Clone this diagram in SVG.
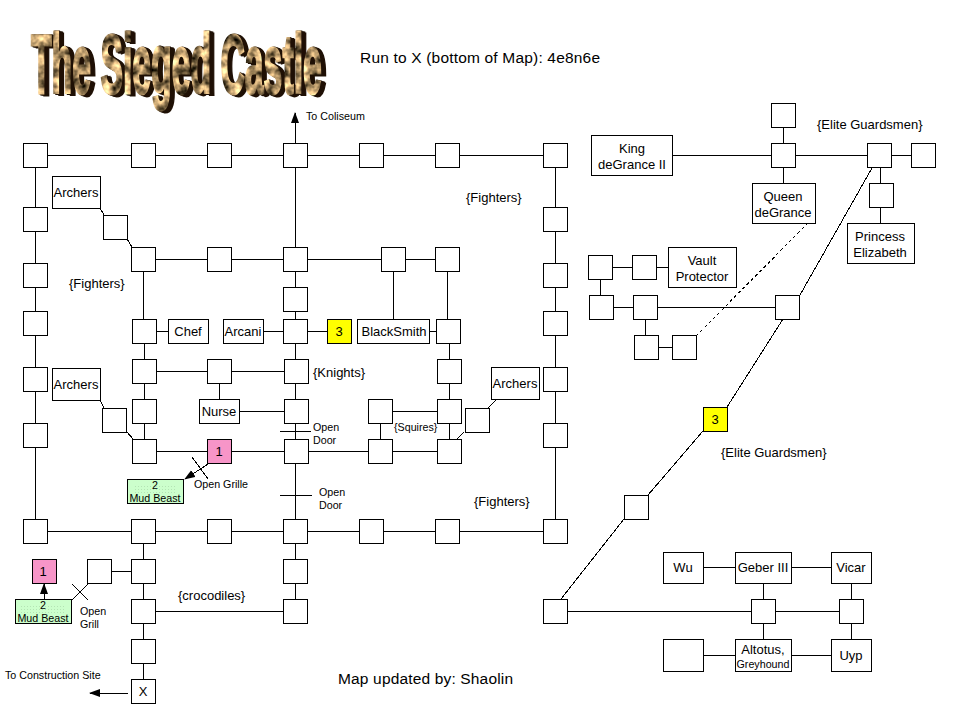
<svg xmlns="http://www.w3.org/2000/svg" width="960" height="720" viewBox="0 0 960 720">
<style>
text{font-family:"Liberation Sans",Arial,sans-serif;font-size:13px;fill:#000}
.n rect{fill:#fff;stroke:#000;stroke-width:1;shape-rendering:crispEdges}
.n rect.d{fill:url(#dots);stroke:none}
#c line{stroke:#000;stroke-width:1;fill:none;shape-rendering:crispEdges}
.m{text-anchor:middle}
.s{font-size:10.7px}
.b{font-size:15.5px}
text.t{font-size:84px;font-weight:bold;fill:#000;stroke:#000;stroke-width:3px}
</style>
<defs>
<marker id="a" markerWidth="12" markerHeight="10" refX="10" refY="4" orient="auto" markerUnits="userSpaceOnUse"><path d="M0 0L11 4L0 8Z" fill="#000"/></marker>
<pattern id="dots" width="3" height="3" patternUnits="userSpaceOnUse"><rect width="1" height="1" fill="#b4e4b4"/></pattern>
<filter id="rock" x="-3%" y="-3%" width="106%" height="106%" color-interpolation-filters="sRGB">
<feTurbulence type="fractalNoise" baseFrequency="0.09" numOctaves="3" seed="7" result="noise"/>
<feColorMatrix in="noise" type="matrix" values="1.9 0 0 0 -0.25  1.6 0 0 0 -0.22  1.2 0 0 0 -0.2  0 0 0 0 1" result="col"/>
<feComposite in="col" in2="SourceAlpha" operator="in" result="top"/>
<feFlood flood-color="#1f1005"/>
<feComposite in2="SourceAlpha" operator="in" result="dark"/>
<feOffset in="dark" dx="1" dy="0.3" result="d1"/>
<feOffset in="dark" dx="2" dy="0.6" result="d2"/>
<feOffset in="dark" dx="3" dy="1" result="d3"/>
<feOffset in="dark" dx="4" dy="1.3" result="d4"/>
<feOffset in="dark" dx="5" dy="1.6" result="d5"/>
<feMerge><feMergeNode in="d5"/><feMergeNode in="d4"/><feMergeNode in="d3"/><feMergeNode in="d2"/><feMergeNode in="d1"/><feMergeNode in="top"/></feMerge>
</filter>
</defs>
<rect width="960" height="720" fill="#fff"/>
<g id="title" filter="url(#rock)">
<text class="t" transform="translate(31 93) scale(0.402 1)">The Sieged Castle</text>
</g>
<g id="c">
<line x1="35" y1="155" x2="555" y2="155"/>
<line x1="35" y1="155" x2="35" y2="531"/>
<line x1="555" y1="155" x2="555" y2="531"/>
<line x1="35" y1="531" x2="555" y2="531"/>
<line x1="295" y1="143" x2="295" y2="113" marker-end="url(#a)"/>
<line x1="295" y1="155" x2="295" y2="611"/>
<line x1="143" y1="259" x2="143" y2="319"/>
<line x1="144" y1="343" x2="144" y2="451"/>
<line x1="143" y1="531" x2="143" y2="691"/>
<line x1="143" y1="259" x2="447" y2="259"/>
<line x1="447" y1="259" x2="447" y2="319"/>
<line x1="449" y1="343" x2="449" y2="451"/>
<line x1="393" y1="259" x2="393" y2="319"/>
<line x1="100" y1="208" x2="104" y2="215"/>
<line x1="127" y1="239" x2="132" y2="247"/>
<line x1="155" y1="331" x2="168" y2="331"/>
<line x1="263" y1="331" x2="327" y2="331"/>
<line x1="429" y1="331" x2="436" y2="331"/>
<line x1="144" y1="371" x2="296" y2="371"/>
<line x1="219" y1="371" x2="219" y2="399"/>
<line x1="239" y1="411" x2="296" y2="411"/>
<line x1="144" y1="451" x2="449" y2="451"/>
<line x1="380" y1="411" x2="449" y2="411"/>
<line x1="380" y1="411" x2="380" y2="451"/>
<line x1="100" y1="400" x2="104" y2="408"/>
<line x1="127" y1="432" x2="133" y2="439"/>
<line x1="496" y1="400" x2="488" y2="408"/>
<line x1="464" y1="432" x2="457" y2="439"/>
<line x1="280" y1="431" x2="311" y2="431"/>
<line x1="280" y1="495" x2="312" y2="495"/>
<line x1="192" y1="457" x2="208" y2="479"/>
<line x1="208" y1="464" x2="185" y2="479" marker-end="url(#a)"/>
<line x1="44" y1="599" x2="44" y2="584" marker-end="url(#a)"/>
<line x1="72" y1="600" x2="88" y2="584"/>
<line x1="72" y1="584" x2="88" y2="600"/>
<line x1="111" y1="571" x2="143" y2="571"/>
<line x1="143" y1="611" x2="295" y2="611"/>
<line x1="128" y1="693" x2="90" y2="693" marker-end="url(#a)"/>
<line x1="672" y1="155" x2="923" y2="155"/>
<line x1="783" y1="115" x2="783" y2="183"/>
<line x1="880" y1="167" x2="880" y2="223"/>
<line x1="872" y1="168" x2="800" y2="295"/>
<line x1="783" y1="319" x2="727" y2="407"/>
<line x1="703" y1="431" x2="648" y2="495"/>
<line x1="624" y1="519" x2="561" y2="599"/>
<line x1="808" y1="223" x2="697" y2="335" stroke-dasharray="3 3"/>
<line x1="600" y1="267" x2="668" y2="267"/>
<line x1="600" y1="279" x2="601" y2="295"/>
<line x1="601" y1="307" x2="787" y2="307"/>
<line x1="645" y1="319" x2="646" y2="335"/>
<line x1="646" y1="347" x2="684" y2="347"/>
<line x1="555" y1="611" x2="851" y2="611"/>
<line x1="703" y1="567" x2="831" y2="567"/>
<line x1="703" y1="655" x2="831" y2="655"/>
<line x1="763" y1="583" x2="763" y2="639"/>
<line x1="851" y1="583" x2="851" y2="639"/>
</g>
<g id="nodes" class="n">
<g id="g1"><rect x="23" y="143" width="24" height="24"/><rect x="131" y="143" width="24" height="24"/><rect x="207" y="143" width="24" height="24"/><rect x="283" y="143" width="24" height="24"/><rect x="359" y="143" width="24" height="24"/><rect x="435" y="143" width="24" height="24"/><rect x="543" y="143" width="24" height="24"/></g>
<g id="g2"><rect x="23" y="207" width="24" height="24"/><rect x="23" y="263" width="24" height="24"/><rect x="23" y="311" width="24" height="24"/><rect x="23" y="367" width="24" height="24"/><rect x="23" y="423" width="24" height="24"/></g>
<g id="g3"><rect x="543" y="207" width="24" height="24"/><rect x="543" y="263" width="24" height="24"/><rect x="543" y="311" width="24" height="24"/><rect x="543" y="367" width="24" height="24"/><rect x="543" y="423" width="24" height="24"/></g>
<g id="g4"><rect x="23" y="519" width="24" height="24"/><rect x="131" y="519" width="24" height="24"/><rect x="207" y="519" width="24" height="24"/><rect x="283" y="519" width="24" height="24"/><rect x="359" y="519" width="24" height="24"/><rect x="435" y="519" width="24" height="24"/><rect x="543" y="519" width="24" height="24"/></g>
<g id="g5"><rect x="103" y="215" width="24" height="24"/><rect x="131" y="247" width="24" height="24"/><rect x="207" y="247" width="24" height="24"/><rect x="283" y="247" width="24" height="24"/><rect x="381" y="247" width="24" height="24"/><rect x="435" y="247" width="24" height="24"/><rect x="283" y="287" width="24" height="24"/></g>
<g id="g6"><rect x="132" y="319" width="24" height="24"/><rect x="283" y="319" width="24" height="24"/><rect x="436" y="319" width="24" height="24"/><rect x="132" y="359" width="24" height="24"/><rect x="207" y="359" width="24" height="24"/><rect x="284" y="359" width="24" height="24"/><rect x="437" y="359" width="24" height="24"/></g>
<g id="g7"><rect x="132" y="399" width="24" height="24"/><rect x="284" y="399" width="24" height="24"/><rect x="368" y="399" width="24" height="24"/><rect x="437" y="399" width="24" height="24"/><rect x="102" y="408" width="24" height="24"/><rect x="465" y="408" width="24" height="24"/></g>
<g id="g8"><rect x="132" y="439" width="24" height="24"/><rect x="284" y="439" width="24" height="24"/><rect x="368" y="439" width="24" height="24"/><rect x="437" y="439" width="24" height="24"/></g>
<g id="g9"><rect x="87" y="559" width="24" height="24"/><rect x="131" y="559" width="24" height="24"/><rect x="131" y="599" width="24" height="24"/><rect x="131" y="639" width="24" height="24"/><rect x="283" y="559" width="24" height="24"/><rect x="283" y="599" width="24" height="24"/></g>
<g id="g10"><rect x="771" y="103" width="24" height="24"/><rect x="771" y="143" width="24" height="24"/><rect x="867" y="143" width="24" height="24"/><rect x="911" y="143" width="24" height="24"/><rect x="869" y="183" width="24" height="24"/></g>
<g id="g11"><rect x="588" y="255" width="24" height="24"/><rect x="632" y="255" width="24" height="24"/><rect x="589" y="295" width="24" height="24"/><rect x="633" y="295" width="24" height="24"/><rect x="775" y="295" width="24" height="24"/><rect x="634" y="335" width="24" height="24"/><rect x="672" y="335" width="24" height="24"/></g>
<g id="g12"><rect x="624" y="495" width="24" height="24"/><rect x="543" y="599" width="24" height="24"/><rect x="751" y="599" width="24" height="24"/><rect x="839" y="599" width="24" height="24"/><rect x="663" y="639" width="40" height="32"/></g>
<g id="archers1"><rect x="52" y="176" width="48" height="32"/><text class="m" x="76" y="197">Archers</text></g>
<g id="archers2"><rect x="52" y="368" width="48" height="32"/><text class="m" x="76" y="389">Archers</text></g>
<g id="archers3"><rect x="491" y="367" width="48" height="32"/><text class="m" x="515" y="388">Archers</text></g>
<g id="chef"><rect x="168" y="319" width="40" height="24"/><text class="m" x="188" y="336">Chef</text></g>
<g id="arcani"><rect x="223" y="319" width="40" height="24"/><text class="m" x="243" y="336">Arcani</text></g>
<g id="yellow1"><rect x="327" y="319" width="24" height="24" style="fill:#ffff00"/><text class="m" x="339" y="336">3</text></g>
<g id="blacksmith"><rect x="357" y="319" width="72" height="24"/><text class="m" x="394" y="336">BlackSmith</text></g>
<g id="nurse"><rect x="199" y="399" width="40" height="24"/><text class="m" x="219" y="416">Nurse</text></g>
<g id="pink1"><rect x="207" y="439" width="24" height="24" style="fill:#f795c8"/><text class="m" x="219" y="456">1</text></g>
<g id="green1"><rect x="127" y="479" width="56" height="24" style="fill:#ccffcc"/><rect class="d" x="133" y="484" width="44" height="9"/><text class="m s" x="155" y="489">2</text><text class="m s" x="155" y="502">Mud Beast</text></g>
<g id="pink2"><rect x="32" y="559" width="24" height="24" style="fill:#f795c8"/><text class="m" x="43" y="576">1</text></g>
<g id="green2"><rect x="15" y="599" width="56" height="24" style="fill:#ccffcc"/><rect class="d" x="21" y="604" width="44" height="9"/><text class="m s" x="43" y="609">2</text><text class="m s" x="43" y="622">Mud Beast</text></g>
<g id="x"><rect x="131" y="679" width="24" height="24"/><text class="m" x="143" y="696">X</text></g>
<g id="king"><rect x="591" y="135" width="81" height="40"/><text class="m" x="632" y="153">King</text><text class="m" x="632" y="169">deGrance II</text></g>
<g id="queen"><rect x="752" y="183" width="63" height="40"/><text class="m" x="783" y="201">Queen</text><text class="m" x="783" y="217">deGrance</text></g>
<g id="princess"><rect x="847" y="223" width="67" height="40"/><text class="m" x="880" y="241">Princess</text><text class="m" x="880" y="257">Elizabeth</text></g>
<g id="vault"><rect x="668" y="247" width="68" height="40"/><text class="m" x="702" y="265">Vault</text><text class="m" x="702" y="281">Protector</text></g>
<g id="yellow2"><rect x="703" y="407" width="24" height="24" style="fill:#ffff00"/><text class="m" x="715" y="424">3</text></g>
<g id="wu"><rect x="663" y="552" width="40" height="31"/><text class="m" x="683" y="572">Wu</text></g>
<g id="geber"><rect x="735" y="552" width="56" height="31"/><text class="m" x="763" y="572">Geber III</text></g>
<g id="vicar"><rect x="831" y="552" width="40" height="31"/><text class="m" x="851" y="572">Vicar</text></g>
<g id="altotus"><rect x="735" y="639" width="56" height="32"/><text class="m" x="763" y="654">Altotus,</text><text class="m s" x="763" y="668">Greyhound</text></g>
<g id="uyp"><rect x="831" y="639" width="40" height="32"/><text class="m" x="851" y="660">Uyp</text></g>
</g>
<g id="labels">
<text class="b" x="360" y="63" textLength="240" lengthAdjust="spacing">Run to X (bottom of Map): 4e8n6e</text>
<text class="s" x="306" y="120">To Coliseum</text>
<text x="466" y="202">{Fighters}</text>
<text x="69" y="288">{Fighters}</text>
<text x="474" y="506">{Fighters}</text>
<text x="313" y="377">{Knights}</text>
<text class="s" x="394" y="431">{Squires}</text>
<text class="s" x="313" y="431">Open</text>
<text class="s" x="313" y="444">Door</text>
<text class="s" x="319" y="496">Open</text>
<text class="s" x="319" y="509">Door</text>
<text class="s" x="194" y="488">Open Grille</text>
<text class="s" x="80" y="615">Open</text>
<text class="s" x="80" y="628">Grill</text>
<text class="s" x="5" y="679">To Construction Site</text>
<text x="178" y="600">{crocodiles}</text>
<text x="817" y="129">{Elite Guardsmen}</text>
<text x="721" y="457">{Elite Guardsmen}</text>
<text class="b" x="338" y="684" textLength="175" lengthAdjust="spacing">Map updated by: Shaolin</text>
</g>
</svg>
